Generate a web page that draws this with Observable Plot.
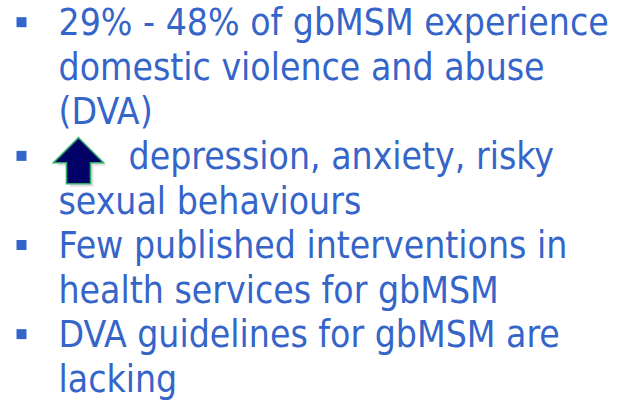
<!DOCTYPE html>
<html><head><meta charset="utf-8">
<script src="https://cdn.jsdelivr.net/npm/d3@7"></script>
<script src="https://cdn.jsdelivr.net/npm/@observablehq/plot@0.6"></script>
<style>body{margin:0;background:#fff}</style>
</head><body><div id="chart"></div>
<script>
// Slide text lines (index = line number)
const lineTexts = [
  "29% - 48% of gbMSM experience",
  "domestic violence and abuse",
  "(DVA)",
  "depression, anxiety, risky",
  "sexual behaviours",
  "Few published interventions in",
  "health services for gbMSM",
  "DVA guidelines for gbMSM are",
  "lacking"
];
const bulletLines = [0, 3, 5, 7];   // lines that start a bullet
const arrowLines = [3];             // lines that start with the "increased" arrow icon
const textColor = "#3565c9";

const plainLines = lineTexts.map((t, i) => ({line: i, text: t})).filter(d => !arrowLines.includes(d.line));
const iconLines = lineTexts.map((t, i) => ({line: i, text: t})).filter(d => arrowLines.includes(d.line));
const bullets = bulletLines.map(i => ({line: i}));
const arrows = arrowLines.map(i => ({line: i}));

// Custom up-arrow symbol for the icon
const upArrow = {
  draw(ctx, size) {
    const s = Math.sqrt(size);
    ctx.moveTo(0, -0.46 * s);
    ctx.lineTo(0.5 * s, 0.04 * s);
    ctx.lineTo(0.24 * s, 0.04 * s);
    ctx.lineTo(0.24 * s, 0.46 * s);
    ctx.lineTo(-0.24 * s, 0.46 * s);
    ctx.lineTo(-0.24 * s, 0.04 * s);
    ctx.lineTo(-0.5 * s, 0.04 * s);
    ctx.closePath();
  }
};

const chart = Plot.plot({
  width: 621,
  height: 401,
  margin: 0,
  style: {fontFamily: "'DejaVu Sans Condensed', 'DejaVu Sans', sans-serif", background: "#fff"},
  y: {type: "linear", domain: [0, 8], range: [23, 379.5], axis: null},
  marks: [
    Plot.dot(bullets, {y: "line", frameAnchor: "left", dx: 21, dy: -1.3, symbol: "square", r: 5.64, fill: "#3366cc", stroke: null}),
    Plot.dot(arrows, {y: "line", frameAnchor: "left", dx: 81, dy: 6.5, symbol: upArrow, r: 28.2, fill: "#888", fillOpacity: 0.25, stroke: null}),
    Plot.dot(arrows, {y: "line", frameAnchor: "left", dx: 78, dy: 3.5, symbol: upArrow, r: 28.2, fill: "#000066", stroke: "#2eaa6a", strokeWidth: 1.6}),
    Plot.text(plainLines, {y: "line", text: "text", frameAnchor: "left", dx: 58, textAnchor: "start", lineAnchor: "middle", fontSize: 37, fill: textColor}),
    Plot.text(iconLines, {y: "line", text: "text", frameAnchor: "left", dx: 128, textAnchor: "start", lineAnchor: "middle", fontSize: 37, fill: textColor})
  ]
});
document.getElementById("chart").append(chart);
</script></body></html>
